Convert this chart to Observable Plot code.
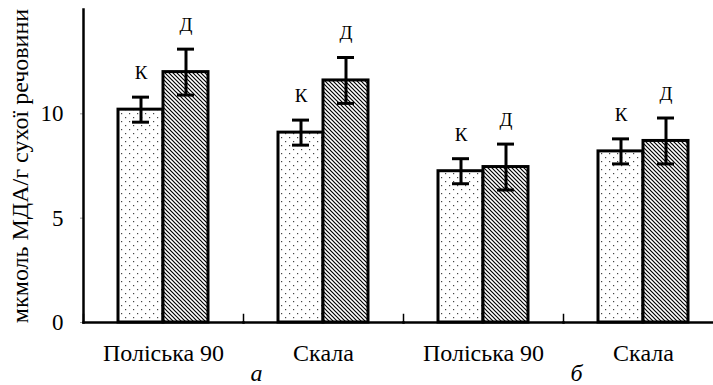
<!DOCTYPE html>
<html><head><meta charset="utf-8">
<script src="https://cdn.jsdelivr.net/npm/d3@7"></script>
<script src="https://cdn.jsdelivr.net/npm/@observablehq/plot@0.6"></script>
<style>body{margin:0;background:#fff} svg text{font-family:"Liberation Serif","DejaVu Serif",serif !important}</style>
</head><body><div id="chart"></div>
<script>
const groupIds = ["a1", "a2", "b1", "b2"];
const groupNames = ["Поліська 90", "Скала", "Поліська 90", "Скала"];
const seriesNames = ["К", "Д"];
const controlValues = [10.2, 9.1, 7.25, 8.2];
const controlErrors = [0.6, 0.6, 0.6, 0.6];
const droughtValues = [12.0, 11.6, 7.45, 8.7];
const droughtErrors = [1.1, 1.1, 1.1, 1.1];
const panelGroups = ["a2", "b2"];
const panelLabels = ["а", "б"];
const yTicks = [0, 5, 10];
const yLabel = "мкмоль МДА/г сухої речовини";

const rows = groupIds.flatMap((g, i) => [
  {group: g, series: seriesNames[0], value: controlValues[i], err: controlErrors[i]},
  {group: g, series: seriesNames[1], value: droughtValues[i], err: droughtErrors[i]}
]);
const panels = panelGroups.map((g, i) => ({group: g, label: panelLabels[i]}));
const lo = d => d.value - d.err, hi = d => d.value + d.err;

const chart = Plot.plot({
  width: 713, height: 385,
  marginLeft: 83, marginRight: 0, marginTop: 9, marginBottom: 63,
  style: "font-family: 'Liberation Serif', 'DejaVu Serif', serif; font-size: 22px; color: #000; background: #fff; overflow: hidden;",
  fx: {domain: groupIds, range: [83, 723], padding: 0},
  x: {domain: seriesNames, paddingInner: 0, paddingOuter: 0.74, axis: null},
  y: {domain: [0, 15]},
  color: {type: "ordinal", domain: seriesNames, range: ["url(#dots)", "url(#hatch)"]},
  marks: [
    Plot.barY(rows, {fx: "group", x: "series", y: "value", fill: "series", stroke: "#000", strokeWidth: 3}),
    Plot.ruleX(rows, {fx: "group", x: "series", y1: lo, y2: hi, stroke: "#000", strokeWidth: 3}),
    Plot.tickY(rows, {fx: "group", x: "series", y: lo, insetLeft: 14, insetRight: 14, stroke: "#000", strokeWidth: 3}),
    Plot.tickY(rows, {fx: "group", x: "series", y: hi, insetLeft: 14, insetRight: 14, stroke: "#000", strokeWidth: 3}),
    Plot.text(rows, {fx: "group", x: "series", y: hi, text: "series", lineAnchor: "bottom", dy: -18, fontSize: 19}),
    Plot.frame({anchor: "bottom", stroke: "#000", strokeWidth: 2.5}),
    Plot.frame({anchor: "left", insetTop: 305, stroke: "#000", strokeWidth: 1.5}),
    Plot.frame({anchor: "left", facetAnchor: "left", stroke: "#000", strokeWidth: 2.5}),
    Plot.axisY({ticks: yTicks, tickSize: 3, tickPadding: 17, strokeOpacity: 0.4, fontSize: 23, label: null}),
    Plot.axisY({ticks: [], label: yLabel, labelArrow: "none", labelAnchor: "center", labelOffset: 73, fontSize: 24}),
    Plot.axisFx({anchor: "bottom", tickSize: 0, tickPadding: 21, fontSize: 24, label: null, tickFormat: id => groupNames[groupIds.indexOf(id)]}),
    Plot.text(panels, {fx: "group", text: "label", frameAnchor: "bottom-left", textAnchor: "middle", lineAnchor: "middle", dx: 13, dy: 51, fontStyle: "italic", fontSize: 24})
  ]
});

const ns = "http://www.w3.org/2000/svg";
const defs = document.createElementNS(ns, "defs");
defs.innerHTML = `
<pattern id="dots" width="8" height="8" patternUnits="userSpaceOnUse">
  <rect width="8" height="8" fill="#fff"/>
  <rect x="1" y="1" width="1.2" height="1.2" fill="#444"/>
  <rect x="5" y="5" width="1.2" height="1.2" fill="#444"/>
</pattern>
<pattern id="hatch" width="4" height="4" patternUnits="userSpaceOnUse">
  <rect width="4" height="4" fill="#fff"/>
  <path d="M-1,-1 L5,5 M3,-1 L5,1 M-1,3 L1,5" stroke="#000" stroke-width="1.2"/>
</pattern>`;
chart.insertBefore(defs, chart.firstChild);
document.getElementById("chart").append(chart);
</script>
</body></html>
